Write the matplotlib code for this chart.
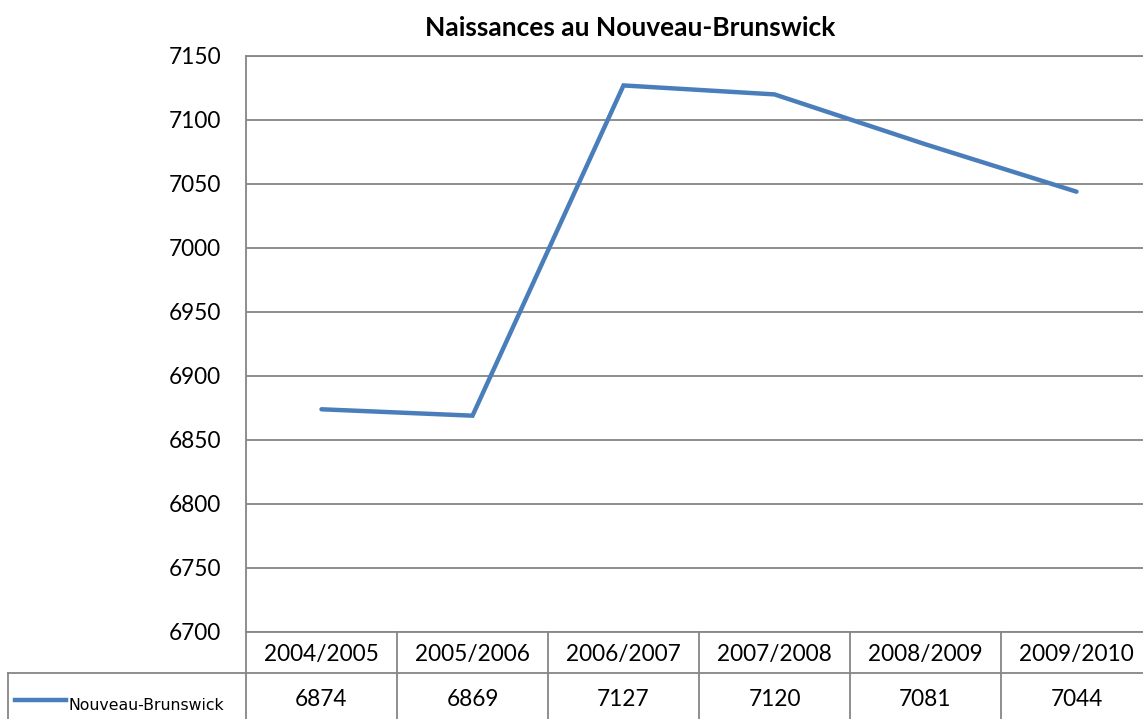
#!/usr/bin/env python3
"""
Naissances au Nouveau-Brunswick - line chart with an Excel style data table
"""

import matplotlib
matplotlib.use("Agg")
import matplotlib.pyplot as plt
import matplotlib.transforms as mtransforms
from matplotlib.lines import Line2D

# data
periods = ["2004/2005", "2005/2006", "2006/2007", "2007/2008", "2008/2009", "2009/2010"]
births = [6874, 6869, 7127, 7120, 7081, 7044]
series_name = "Nouveau-Brunswick"
yticks = [6700, 6750, 6800, 6850, 6900, 6950, 7000, 7050, 7100, 7150]

W, H = 1143, 719
BLUE = "#4a7ebb"
GRID = "#868686"


def px(x, y):
    # pixel coords (top-left origin) -> figure fraction
    return x / W, 1 - y / H


def main():
    plt.rcParams["font.family"] = ["Lato", "DejaVu Sans"]
    fig = plt.figure(figsize=(W / 100, H / 100), dpi=100)

    left, top, right, bottom = 246, 56, 1152, 632
    ax = fig.add_axes([left / W, 1 - bottom / H, (right - left) / W, (bottom - top) / H])

    xs = list(range(len(periods)))
    ax.plot(xs, births, color=BLUE, lw=3.2, solid_capstyle="round",
            solid_joinstyle="miter")

    ax.set_xlim(-0.5, len(periods) - 0.5)
    ax.set_ylim(yticks[0], yticks[-1])
    ax.set_yticks(yticks)
    ax.set_xticks([])
    ax.yaxis.grid(True, color=GRID, lw=1.3)
    ax.set_axisbelow(True)
    ax.tick_params(axis="y", length=0, pad=18, labelsize=16.3)
    for s in ["right", "bottom"]:
        ax.spines[s].set_visible(False)
    for s in ["left", "top"]:
        ax.spines[s].set_color(GRID)
        ax.spines[s].set_linewidth(1.3)

    fig.text(*px(630, 28), "Naissances au Nouveau-Brunswick", ha="center",
             va="center", fontsize=19, fontweight="bold")

    # data table below the plot
    tr = mtransforms.blended_transform_factory(ax.transData, fig.transFigure)
    row1_top, row2_top, row_bottom = 632, 673, 725
    y_top = 1 - row1_top / H
    y_mid = 1 - row2_top / H
    y_bot = 1 - row_bottom / H

    fig.add_artist(Line2D([left / W, 1.0], [y_top, y_top], color=GRID, lw=1.3))
    fig.add_artist(Line2D([8 / W, 1.0], [y_mid, y_mid], color=GRID, lw=1.3))
    fig.add_artist(Line2D([8 / W, 8 / W], [y_mid, y_bot], color=GRID, lw=1.3))
    for i in range(len(periods) + 1):
        fig.add_artist(Line2D([i - 0.5, i - 0.5], [y_top, y_bot], color=GRID,
                              lw=1.3, transform=tr))

    for i, (p, v) in enumerate(zip(periods, births)):
        fig.text(i, 1 - 655 / H, p, transform=tr, ha="center", va="center",
                 fontsize=16.3)
        fig.text(i, 1 - 699 / H, str(v), transform=tr, ha="center",
                 va="center", fontsize=16.3)

    fig.add_artist(Line2D([15 / W, 66 / W], [1 - 700 / H] * 2, color=BLUE,
                          lw=3.2))
    fig.text(*px(68, 706), series_name, ha="left", va="center", fontsize=11.3,
             family=["DejaVu Sans"])

    fig.savefig("out.png", dpi=100)


if __name__ == "__main__":
    main()
